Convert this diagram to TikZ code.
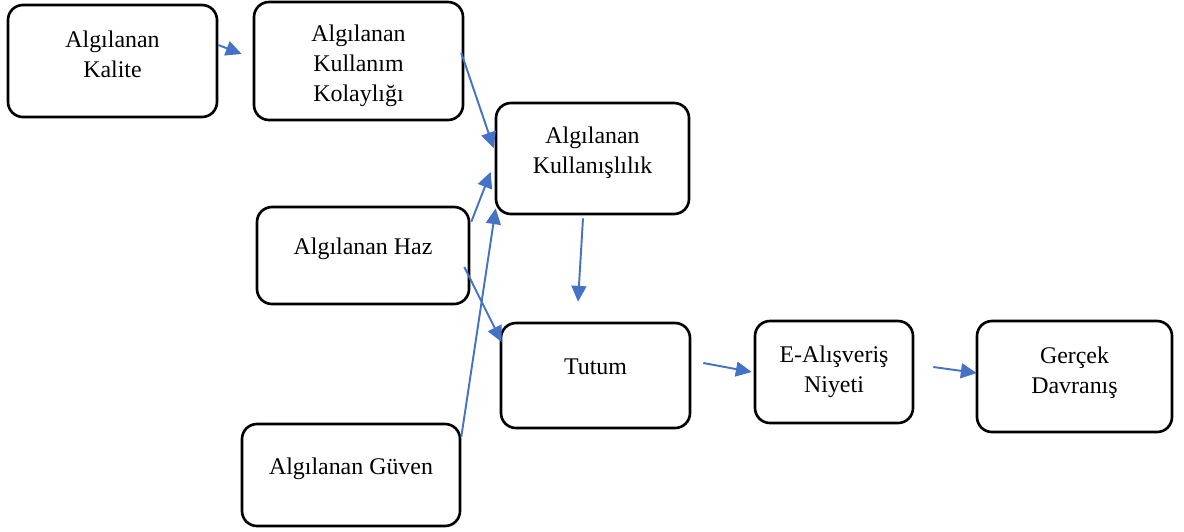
\documentclass[tikz,border=0pt]{standalone}
\usepackage{fontspec}
\setmainfont{Liberation Serif}
\usepackage{tikz}
\usetikzlibrary{arrows.meta}

\definecolor{okmavi}{RGB}{68,114,196}

\begin{document}
\begin{tikzpicture}
  \tikzset{kutu/.style = {shape=rectangle,draw,line width=1.5pt,rounded corners=0.3cm,align=center,font=\fontsize{13.6}{17}\selectfont}}
  \tikzset{edge/.style = {-{Triangle[length=9pt,width=8.5pt]},draw=okmavi,fill=okmavi,line width=1.1pt}}

  \useasboundingbox (0,0) rectangle (23.68,-10.62);

	\node[kutu,minimum width=4.18cm,minimum height=2.24cm,text depth=8pt] (kalite) at (2.25,-1.22) {Algılanan\\Kalite};
	\node[kutu,minimum width=4.18cm,minimum height=2.36cm,text height=49pt] (kolay) at (7.17,-1.22) {Algılanan\\Kullanım\\Kolaylığı};
	\node[kutu,minimum width=3.86cm,minimum height=2.22cm,text depth=9.4pt] (fayda) at (11.85,-3.17) {Algılanan\\Kullanışlılık};
	\node[kutu,minimum width=4.24cm,minimum height=1.94cm,text depth=11pt] (haz) at (7.26,-5.11) {Algılanan Haz};
	\node[kutu,minimum width=3.78cm,minimum height=2.10cm,text depth=10.2pt] (tutum) at (11.91,-7.51) {Tutum};
	\node[kutu,minimum width=3.16cm,minimum height=2.04cm] (niyet) at (16.68,-7.44) {E-Alışveriş\\Niyeti};
	\node[kutu,minimum width=3.90cm,minimum height=2.22cm,text depth=7.2pt] (davranis) at (21.49,-7.53) {Gerçek\\Davranış};
	\node[kutu,minimum width=4.36cm,minimum height=2.04cm,text depth=9.8pt] (guven) at (7.02,-9.50) {Algılanan Güven};

       \foreach \a/\ax/\ay/\b/\bx/\by in {kalite.east/0/.32/kolay.west/-.22/.14,
         kolay.east/-.06/.16/fayda.west/-.02/.21,
         haz.north east/.02/-.32/fayda.west/-.08/-.27,
         guven.north east/0/-.28/fayda.south west/.02/.14,
         fayda.south/-.19/-.06/tutum.north/-.35/.40,
         haz.east/-.12/-.23/tutum.west/.04/.67,
         tutum.east/.24/.25/niyet.west/-.04/0,
         niyet.east/.38/.10/davranis.west/.02/.07}
    \draw[edge] ([xshift=\ax cm,yshift=\ay cm]\a) -- ([xshift=\bx cm,yshift=\by cm]\b);

\end{tikzpicture}
\end{document}
